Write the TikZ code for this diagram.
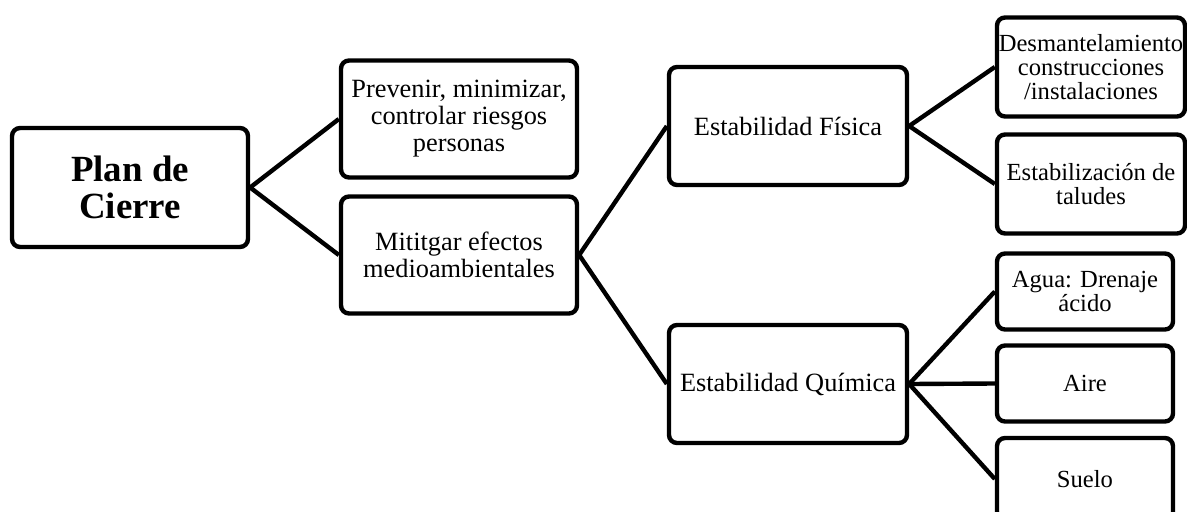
\documentclass[tikz,border=0pt]{standalone}
\usepackage{fontspec}
\setmainfont{Liberation Serif}

\begin{document}
\begin{tikzpicture}[x=0.02cm, y=-0.02cm,
    box/.style={draw, line width=2.5pt, rounded corners=0.16cm, align=center, inner sep=0pt},
    bigbox/.style={box, font=\fontsize{21}{21}\selectfont\bfseries, minimum width=4.72cm, minimum height=2.38cm},
    midbox/.style={box, font=\fontsize{15}{15.4}\selectfont, minimum width=4.72cm, minimum height=2.34cm},
    stabbox/.style={box, font=\fontsize{15}{15.4}\selectfont, minimum width=4.76cm, minimum height=2.36cm},
    leafbox/.style={box, font=\fontsize{14}{13.7}\selectfont, minimum width=3.76cm, minimum height=1.98cm},
    endbox/.style={box, font=\fontsize{14}{12}\selectfont, minimum width=3.52cm, minimum height=1.52cm},
    conn/.style={line width=2.5pt}]
      \useasboundingbox (0,0) rectangle (1187,511);
      % Draw the root
      \node[bigbox] (plan) at (130, 187.5) {Plan de\\Cierre};
      % Draw the first level
      \node[midbox] (prev) at (459, 119) {Prevenir, minimizar,\\controlar riesgos\\personas};
      \node[midbox] (mitig) at (459, 255) {Mititgar efectos\\medioambientales};
      % Draw the stability boxes
      \node[stabbox] (fisica) at (788, 126) {Estabilidad Física};
      \node[stabbox] (quimica) at (788, 384) {Estabilidad Química};
      % Draw the leaves
      \node[leafbox] (desm) at (1091, 67) {Desmantelamiento\\construcciones\\/instalaciones};
      \node[leafbox] (taludes) at (1091, 184) {Estabilización de\\taludes};
      \node[endbox] (agua) at (1085, 291.5) {Agua: Drenaje\\ácido};
      \node[endbox] (aire) at (1085, 383.5) {Aire};
      \node[endbox, minimum height=1.64cm] (suelo) at (1085, 479) {Suelo};
      % Draw the connectors
      \draw[conn] (plan.east) -- (prev.west);
      \draw[conn] (plan.east) -- (mitig.west);
      \draw[conn] (mitig.east) -- (fisica.west);
      \draw[conn] (mitig.east) -- (quimica.west);
      \draw[conn] (fisica.east) -- (desm.west);
      \draw[conn] (fisica.east) -- (taludes.west);
      \draw[conn] (quimica.east) -- (agua.west);
      \draw[conn] (quimica.east) -- (aire.west);
      \draw[conn] (quimica.east) -- (suelo.west);
    \end{tikzpicture}
\end{document}
